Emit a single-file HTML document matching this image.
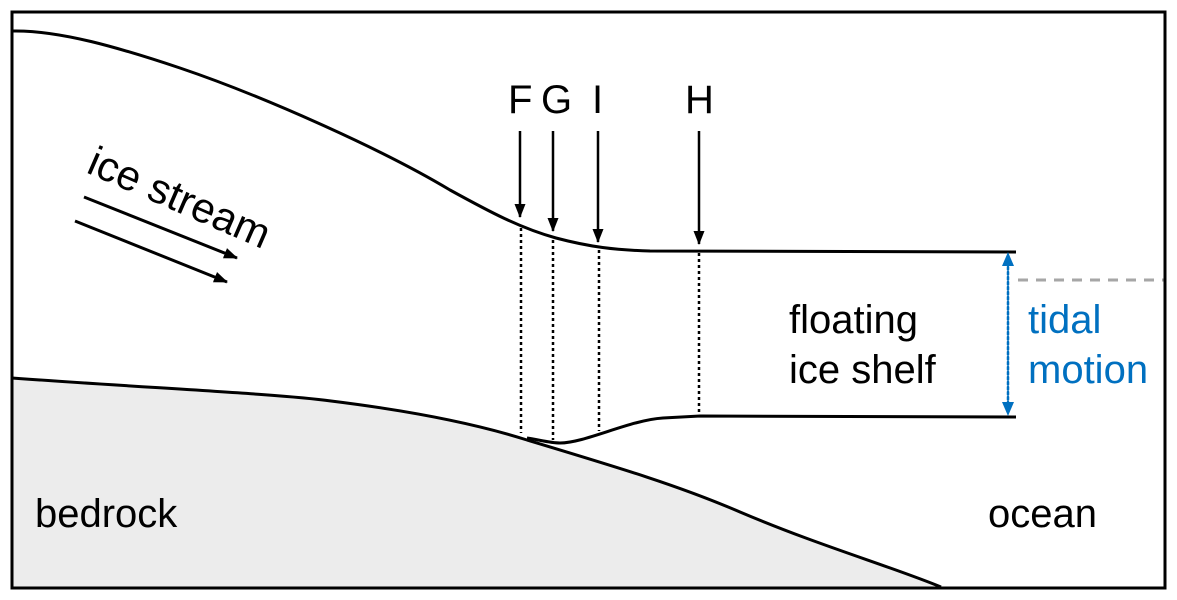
<!DOCTYPE html>
<html><head><meta charset="utf-8"><style>
html,body{margin:0;padding:0;background:#fff;}
svg{display:block;font-family:"Liberation Sans",Arial,sans-serif;}
</style></head><body>
<svg width="1177" height="600" viewBox="0 0 1177 600" xmlns="http://www.w3.org/2000/svg">
<defs>
<marker id="ah2" markerWidth="14" markerHeight="14" refX="13" refY="7" orient="auto" markerUnits="userSpaceOnUse" viewBox="0 0 14 14">
<path d="M0,1.5 L14,7 L0,12.5 z" fill="#000"/></marker>
</defs>
<rect x="0" y="0" width="1177" height="600" fill="#fff"/>
<!-- bedrock -->
<path d="M12,378 C150,388 280,394 331,401 C420,412 480,425 527,440 C620,468 680,486 740,512 C820,546 890,566 941,587 L12,587 Z" fill="#ececec" stroke="none"/>
<path d="M12,378 C150,388 280,394 331,401 C420,412 480,425 527,440 C620,468 680,486 740,512 C820,546 890,566 941,587" fill="none" stroke="#000" stroke-width="3"/>
<!-- ice base -->
<path d="M527,438 C540,440 550,443 560,443 C585,443 630,420 663,418 L700,416 L1016,417" fill="none" stroke="#000" stroke-width="3"/>
<!-- ice surface -->
<path d="M12,31 C60,30 120,48 180,68 C260,95 380,148 450,190 C490,212 520,228 556,238 C590,247 615,250 650,251 L1016,252" fill="none" stroke="#000" stroke-width="3"/>
<!-- dotted -->
<g stroke="#000" stroke-width="2.5" stroke-dasharray="3,3">
<line x1="521" y1="228" x2="521" y2="433"/>
<line x1="553" y1="240" x2="553" y2="440"/>
<line x1="599" y1="250" x2="599" y2="431"/>
<line x1="699" y1="253" x2="699" y2="413"/>
</g>
<!-- down arrows -->
<g stroke="#000" stroke-width="2.5">
<line x1="520" y1="131" x2="520" y2="217" marker-end="url(#ah2)"/>
<line x1="553" y1="131" x2="553" y2="231" marker-end="url(#ah2)"/>
<line x1="598" y1="131" x2="598" y2="242" marker-end="url(#ah2)"/>
<line x1="699" y1="131" x2="699" y2="244" marker-end="url(#ah2)"/>
</g>
<g font-size="40" fill="#000">
<text x="508" y="113">F</text>
<text x="541" y="113">G</text>
<text x="592" y="113">I</text>
<text x="685" y="113">H</text>
</g>
<!-- ice stream arrows -->
<g stroke="#000" stroke-width="3">
<line x1="84" y1="197" x2="237" y2="258" marker-end="url(#ah2)"/>
<line x1="75" y1="221" x2="227" y2="282" marker-end="url(#ah2)"/>
</g>
<text x="85" y="172" font-size="42" transform="rotate(23.5 85 172)">ice stream</text>
<!-- tidal -->
<line x1="1018" y1="280" x2="1165" y2="280" stroke="#a6a6a6" stroke-width="3" stroke-dasharray="10,8"/>
<line x1="1008" y1="262" x2="1008" y2="406" stroke="#0070c0" stroke-width="2.5" stroke-dasharray="2.5,2.5" stroke-linecap="round"/>
<path d="M1002,266 L1008,252 L1014,266 Z" fill="#0070c0"/>
<path d="M1002,402 L1008,416 L1014,402 Z" fill="#0070c0"/>
<g font-size="40">
<text x="789" y="333" fill="#000">floating</text>
<text x="789" y="383" fill="#000">ice shelf</text>
<text x="1028" y="333" fill="#0070c0">tidal</text>
<text x="1028" y="383" fill="#0070c0">motion</text>
<text x="35" y="527" fill="#000">bedrock</text>
<text x="988" y="527" fill="#000">ocean</text>
</g>
<rect x="12" y="12" width="1153" height="576" fill="none" stroke="#000" stroke-width="3"/>
</svg>
</body></html>
